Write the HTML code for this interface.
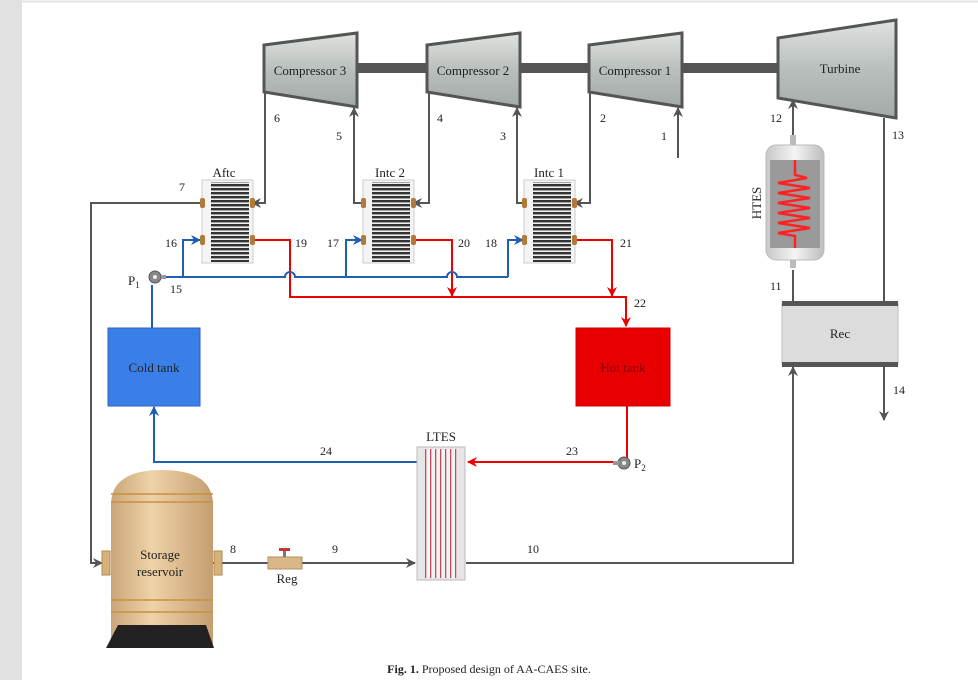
<!DOCTYPE html>
<html><head><meta charset="utf-8"><style>
html,body{margin:0;padding:0;background:#fff}
svg{display:block}
text{font-family:"Liberation Serif",serif;fill:#222}
</style></head><body>
<svg width="978" height="680" viewBox="0 0 978 680" xmlns="http://www.w3.org/2000/svg">
<defs>
<linearGradient id="cg" x1="0" y1="0" x2="0" y2="1"><stop offset="0" stop-color="#dfe3e1"/><stop offset="0.5" stop-color="#b9bfbc"/><stop offset="1" stop-color="#a3aaa7"/></linearGradient>
<pattern id="hx" width="4" height="4" patternUnits="userSpaceOnUse"><rect width="4" height="4" fill="#eee"/><rect width="4" height="2.4" fill="#333"/></pattern>
<pattern id="lt" width="5" height="4" patternUnits="userSpaceOnUse"><rect width="5" height="4" fill="#f2f2f2"/><rect width="1.3" height="4" fill="#c05060"/></pattern>
<linearGradient id="tank" x1="0" y1="0" x2="1" y2="0"><stop offset="0" stop-color="#c9a67a"/><stop offset="0.4" stop-color="#efd2a8"/><stop offset="1" stop-color="#c49e70"/></linearGradient>
<linearGradient id="ht" x1="0" y1="0" x2="1" y2="0"><stop offset="0" stop-color="#c8c8c8"/><stop offset="0.5" stop-color="#f4f4f4"/><stop offset="1" stop-color="#bcbcbc"/></linearGradient>
<marker id="ag" markerWidth="10" markerHeight="10" refX="9" refY="5" orient="auto" markerUnits="userSpaceOnUse"><path d="M0,0 L10,5 L0,10 L3,5z" fill="#555"/></marker>
<marker id="ab" markerWidth="10" markerHeight="10" refX="9" refY="5" orient="auto" markerUnits="userSpaceOnUse"><path d="M0,0 L10,5 L0,10 L3,5z" fill="#1d5fb0"/></marker>
<marker id="ar" markerWidth="10" markerHeight="10" refX="9" refY="5" orient="auto" markerUnits="userSpaceOnUse"><path d="M0,0 L10,5 L0,10 L3,5z" fill="#e00"/></marker>
</defs>
<rect x="0" y="0" width="22" height="680" fill="#e1e1e1"/>
<line x1="22" y1="1.5" x2="978" y2="1.5" stroke="#e4e4e4" stroke-width="2"/>

<rect x="355" y="63" width="430" height="10" fill="#555"/>
<g stroke="#555" stroke-width="3">
<polygon points="264,45 357,33 357,107 264,92" fill="url(#cg)"/>
<polygon points="427,45 520,33 520,107 427,92" fill="url(#cg)"/>
<polygon points="589,45 682,33 682,107 589,92" fill="url(#cg)"/>
<polygon points="778,38 896,20 896,118 778,98" fill="url(#cg)"/>
</g>
<text x="310" y="75" font-size="13" text-anchor="middle">Compressor 3</text>
<text x="473" y="75" font-size="13" text-anchor="middle">Compressor 2</text>
<text x="635" y="75" font-size="13" text-anchor="middle">Compressor 1</text>
<text x="840" y="73" font-size="13" text-anchor="middle">Turbine</text>

<g stroke="#555" stroke-width="2" fill="none">
<polyline points="265,92 265,203 252,203" marker-end="url(#ag)"/>
<polyline points="364,203 354,203 354,108" marker-end="url(#ag)"/>
<polyline points="429,92 429,203 413,203" marker-end="url(#ag)"/>
<polyline points="525,203 517,203 517,108" marker-end="url(#ag)"/>
<polyline points="590,92 590,203 574,203" marker-end="url(#ag)"/>
<polyline points="678,158 678,108" marker-end="url(#ag)"/>
<polyline points="202,203 91,203 91,563 102,563" marker-end="url(#ag)"/>
<polyline points="213,563 415,563" marker-end="url(#ag)"/>
<polyline points="466,563 793,563 793,367" marker-end="url(#ag)"/>
<polyline points="793,303 793,270"/>
<polyline points="793,143 793,100" marker-end="url(#ag)"/>
<polyline points="884,118 884,303"/>
<polyline points="884,366 884,420" marker-end="url(#ag)"/>
</g>

<g stroke="#e00" stroke-width="2" fill="none">
<polyline points="253,240 290,240 290,297 626,297 626,326" marker-end="url(#ar)"/>
<polyline points="413,240 452,240 452,296" marker-end="url(#ar)"/>
<polyline points="574,240 612,240 612,296" marker-end="url(#ar)"/>
<polyline points="627,405 627,458"/>
<polyline points="618,462 468,462" marker-end="url(#ar)"/>
</g>
<g stroke="#1d5fb0" stroke-width="2" fill="none">
<path d="M165,277 L285,277 A5,5 0 0 1 295,277 L447,277 A5,5 0 0 1 457,277 L508,277"/>
<polyline points="183,277 183,240 200,240" marker-end="url(#ab)"/>
<polyline points="346,277 346,240 362,240" marker-end="url(#ab)"/>
<polyline points="508,277 508,240 523,240" marker-end="url(#ab)"/>
<polyline points="152,328 152,285"/>
<polyline points="417,462 154,462 154,407" marker-end="url(#ab)"/>
</g>

<g>
<rect x="202" y="180" width="51" height="83" fill="#f4f4f4" stroke="#ccc"/><rect x="211" y="182" width="38" height="80" fill="url(#hx)"/>
<rect x="363" y="180" width="51" height="83" fill="#f4f4f4" stroke="#ccc"/><rect x="372" y="182" width="38" height="80" fill="url(#hx)"/>
<rect x="524" y="180" width="51" height="83" fill="#f4f4f4" stroke="#ccc"/><rect x="533" y="182" width="38" height="80" fill="url(#hx)"/>
</g>
<g fill="#b07a3a">
<rect x="200" y="198" width="5" height="10" rx="2"/><rect x="250" y="198" width="5" height="10" rx="2"/><rect x="200" y="235" width="5" height="10" rx="2"/><rect x="250" y="235" width="5" height="10" rx="2"/>
<rect x="361" y="198" width="5" height="10" rx="2"/><rect x="411" y="198" width="5" height="10" rx="2"/><rect x="361" y="235" width="5" height="10" rx="2"/><rect x="411" y="235" width="5" height="10" rx="2"/>
<rect x="522" y="198" width="5" height="10" rx="2"/><rect x="572" y="198" width="5" height="10" rx="2"/><rect x="522" y="235" width="5" height="10" rx="2"/><rect x="572" y="235" width="5" height="10" rx="2"/>
</g>
<text x="224" y="177" font-size="13" text-anchor="middle">Aftc</text>
<text x="390" y="177" font-size="13" text-anchor="middle">Intc 2</text>
<text x="549" y="177" font-size="13" text-anchor="middle">Intc 1</text>

<circle cx="155" cy="277" r="6" fill="#888" stroke="#555"/><circle cx="155" cy="277" r="2" fill="#eee"/><rect x="161" y="275" width="5" height="4" fill="#999"/>
<circle cx="624" cy="463" r="6" fill="#888" stroke="#555"/><circle cx="624" cy="463" r="2" fill="#eee"/><rect x="613" y="461" width="6" height="4" fill="#999"/>
<text x="128" y="285" font-size="13">P<tspan font-size="9" dy="3">1</tspan></text>
<text x="634" y="468" font-size="13">P<tspan font-size="9" dy="3">2</tspan></text>

<rect x="108" y="328" width="92" height="78" fill="#3a7ee8" stroke="#2b62c0"/>
<text x="154" y="372" font-size="13" text-anchor="middle">Cold tank</text>
<rect x="576" y="328" width="94" height="78" fill="#e80000" stroke="#c00"/>
<text x="623" y="372" font-size="13" text-anchor="middle" style="fill:#800">Hot tank</text>

<rect x="790" y="135" width="6" height="10" fill="#bbb"/><rect x="790" y="258" width="6" height="10" fill="#bbb"/>
<rect x="766" y="145" width="58" height="115" rx="10" fill="url(#ht)" stroke="#bbb"/>
<rect x="770" y="160" width="50" height="88" fill="#9a9a9a"/>
<polyline points="795,160 795,175 807,178 778,183 810,188 778,193 810,198 778,203 810,208 778,213 810,218 778,223 810,228 778,233 795,236 795,248" fill="none" stroke="#f22" stroke-width="2.5"/>
<text x="0" y="0" font-size="13" text-anchor="middle" transform="translate(761,203) rotate(-90)">HTES</text>

<rect x="782" y="304" width="116" height="60" fill="#dcdcdc" stroke="#bbb"/>
<rect x="782" y="301" width="116" height="5" fill="#555"/><rect x="782" y="362" width="116" height="5" fill="#555"/>
<text x="840" y="338" font-size="13" text-anchor="middle">Rec</text>

<rect x="417" y="447" width="48" height="133" fill="#e6e6e6" stroke="#bbb"/>
<rect x="425" y="449" width="32" height="129" fill="url(#lt)"/>
<text x="441" y="441" font-size="13" text-anchor="middle">LTES</text>

<path d="M111,645 L111,505 Q111,470 162,470 Q213,470 213,505 L213,645 Z" fill="url(#tank)"/>
<g stroke="#c8913e" stroke-width="1.5"><line x1="111" y1="494" x2="213" y2="494"/><line x1="111" y1="502" x2="213" y2="502"/><line x1="111" y1="600" x2="213" y2="600"/><line x1="111" y1="612" x2="213" y2="612"/></g>
<path d="M118,625 L206,625 L214,648 L106,648 Z" fill="#222"/>
<rect x="102" y="551" width="8" height="24" fill="#d8b07a" stroke="#b08a50"/>
<rect x="214" y="551" width="8" height="24" fill="#d8b07a" stroke="#b08a50"/>
<text x="160" y="559" font-size="13" text-anchor="middle">Storage</text>
<text x="160" y="576" font-size="13" text-anchor="middle">reservoir</text>
<rect x="268" y="557" width="34" height="12" fill="#d8b889" stroke="#b09060"/>
<rect x="283" y="551" width="3" height="6" fill="#777"/><rect x="279" y="548" width="11" height="3" fill="#c33"/>
<text x="287" y="583" font-size="13" text-anchor="middle">Reg</text>

<g font-size="12">
<text x="274" y="122">6</text><text x="336" y="140">5</text><text x="437" y="122">4</text><text x="500" y="140">3</text><text x="600" y="122">2</text><text x="661" y="140">1</text>
<text x="179" y="191">7</text><text x="165" y="247">16</text><text x="295" y="247">19</text><text x="327" y="247">17</text><text x="458" y="247">20</text><text x="485" y="247">18</text><text x="620" y="247">21</text>
<text x="634" y="307">22</text><text x="170" y="293">15</text>
<text x="770" y="122">12</text><text x="892" y="139">13</text><text x="770" y="290">11</text><text x="893" y="394">14</text>
<text x="320" y="455">24</text><text x="566" y="455">23</text>
<text x="230" y="553">8</text><text x="332" y="553">9</text><text x="527" y="553">10</text>
</g>
<text x="489" y="673" font-size="12" text-anchor="middle"><tspan font-weight="bold">Fig. 1.</tspan> Proposed design of AA-CAES site.</text>
</svg>
</body></html>
